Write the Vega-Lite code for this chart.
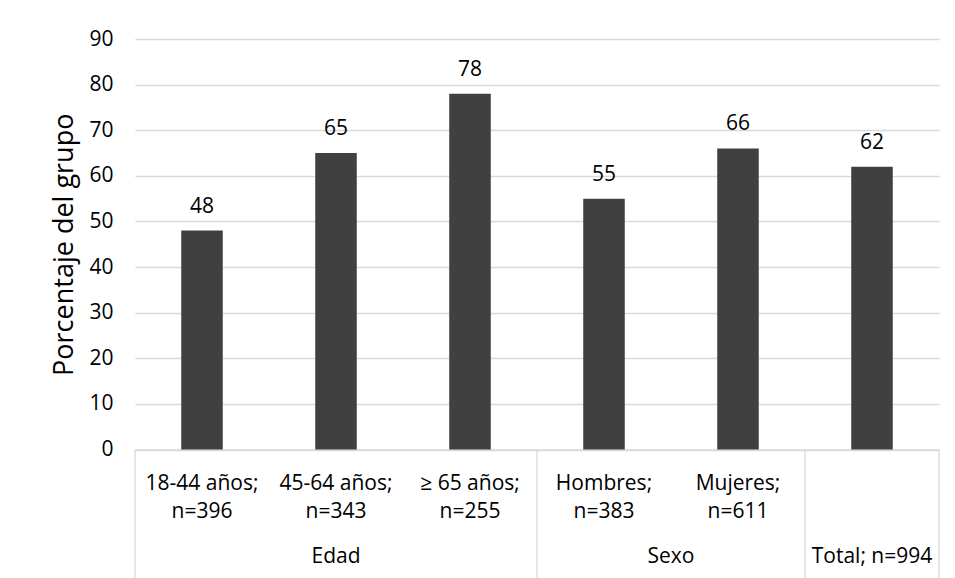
{
  "$schema": "https://vega.github.io/schema/vega-lite/v6.json",
  "width": 804,
  "height": 410.5,
  "autosize": {"type": "none"},
  "padding": {"left": 135, "top": 39, "right": 16, "bottom": 128.5},
  "background": "white",
  "config": {
    "font": "Open Sans",
    "view": {"stroke": null},
    "axis": {"labelColor": "#000000", "titleColor": "#000000", "labelFont": "Open Sans", "titleFont": "Open Sans"},
    "axisX": {
      "title": null, "labelAngle": 0, "ticks": false, "grid": false,
      "domainColor": "#d9d9d9", "domainWidth": 1.3,
      "labelFontSize": 21, "labelLineHeight": 28, "labelPadding": 23,
      "labelOverlap": false
    },
    "text": {"font": "Open Sans"}
  },
  "data": {
    "values": [
      {"categoria": "18-44 años;\nn=396", "grupo": "Edad", "porcentaje": 48},
      {"categoria": "45-64 años;\nn=343", "grupo": "Edad", "porcentaje": 65},
      {"categoria": "≥ 65 años;\nn=255", "grupo": "Edad", "porcentaje": 78},
      {"categoria": "Hombres;\nn=383", "grupo": "Sexo", "porcentaje": 55},
      {"categoria": "Mujeres;\nn=611", "grupo": "Sexo", "porcentaje": 66},
      {"categoria": "Total; n=994", "grupo": "Total; n=994", "porcentaje": 62}
    ]
  },
  "transform": [
    {"window": [{"op": "row_number", "as": "orden"}, {"op": "count", "as": "n"}], "groupby": ["grupo"], "frame": [null, null]}
  ],
  "layer": [
    {
      "mark": {"type": "bar", "color": "#404040", "width": {"band": 0.31}},
      "encoding": {
        "x": {
          "field": "categoria", "type": "nominal", "sort": null,
          "scale": {"paddingInner": 0, "paddingOuter": 0},
          "axis": {"title": null, "labelExpr": "datum.label == 'Total; n=994' ? '' : split(datum.label, '\\n')"}
        },
        "y": {
          "field": "porcentaje", "type": "quantitative",
          "scale": {"domain": [0, 90], "nice": false},
          "axis": {
            "title": "Porcentaje del grupo", "titleFontSize": 27, "titleFontWeight": "normal", "titlePadding": 10,
            "values": [0, 10, 20, 30, 40, 50, 60, 70, 80, 90],
            "domain": false, "ticks": false, "labelFontSize": 21, "labelPadding": 22,
            "gridColor": "#d9d9d9", "gridWidth": 1.3
          }
        }
      }
    },
    {
      "mark": {"type": "text", "fontSize": 21, "baseline": "alphabetic", "dy": -18, "color": "#000000"},
      "encoding": {
        "x": {"field": "categoria", "type": "nominal", "sort": null, "axis": {"title": null, "labelExpr": "datum.label == 'Total; n=994' ? '' : split(datum.label, '\\n')"}},
        "y": {"field": "porcentaje", "type": "quantitative"},
        "text": {"field": "porcentaje", "type": "quantitative"}
      }
    },
    {
      "transform": [{"filter": "datum.orden == 1"}],
      "mark": {"type": "rule", "color": "#d9d9d9", "strokeWidth": 1.3},
      "encoding": {
        "x": {"field": "categoria", "type": "nominal", "sort": null, "bandPosition": 0, "axis": {"title": null, "labelExpr": "datum.label == 'Total; n=994' ? '' : split(datum.label, '\\n')"}},
        "y": {"datum": 0, "type": "quantitative"},
        "y2": {"datum": -28.6}
      }
    },
    {
      "transform": [{"filter": "datum.orden == datum.n && datum.grupo == 'Total; n=994'"}],
      "mark": {"type": "rule", "color": "#d9d9d9", "strokeWidth": 1.3},
      "encoding": {
        "x": {"field": "categoria", "type": "nominal", "sort": null, "bandPosition": 1, "axis": {"title": null, "labelExpr": "datum.label == 'Total; n=994' ? '' : split(datum.label, '\\n')"}},
        "y": {"datum": 0, "type": "quantitative"},
        "y2": {"datum": -28.6}
      }
    },
    {
      "transform": [{"filter": "datum.n % 2 == 1 && datum.orden == (datum.n + 1) / 2"}],
      "mark": {"type": "text", "fontSize": 21, "baseline": "alphabetic", "color": "#000000"},
      "encoding": {
        "x": {"field": "categoria", "type": "nominal", "sort": null, "bandPosition": 0.5, "axis": {"title": null, "labelExpr": "datum.label == 'Total; n=994' ? '' : split(datum.label, '\\n')"}},
        "y": {"datum": -24.95, "type": "quantitative"},
        "text": {"field": "grupo", "type": "nominal"}
      }
    },
    {
      "transform": [{"filter": "datum.n % 2 == 0 && datum.orden == datum.n / 2"}],
      "mark": {"type": "text", "fontSize": 21, "baseline": "alphabetic", "color": "#000000"},
      "encoding": {
        "x": {"field": "categoria", "type": "nominal", "sort": null, "bandPosition": 1, "axis": {"title": null, "labelExpr": "datum.label == 'Total; n=994' ? '' : split(datum.label, '\\n')"}},
        "y": {"datum": -24.95, "type": "quantitative"},
        "text": {"field": "grupo", "type": "nominal"}
      }
    }
  ]
}
